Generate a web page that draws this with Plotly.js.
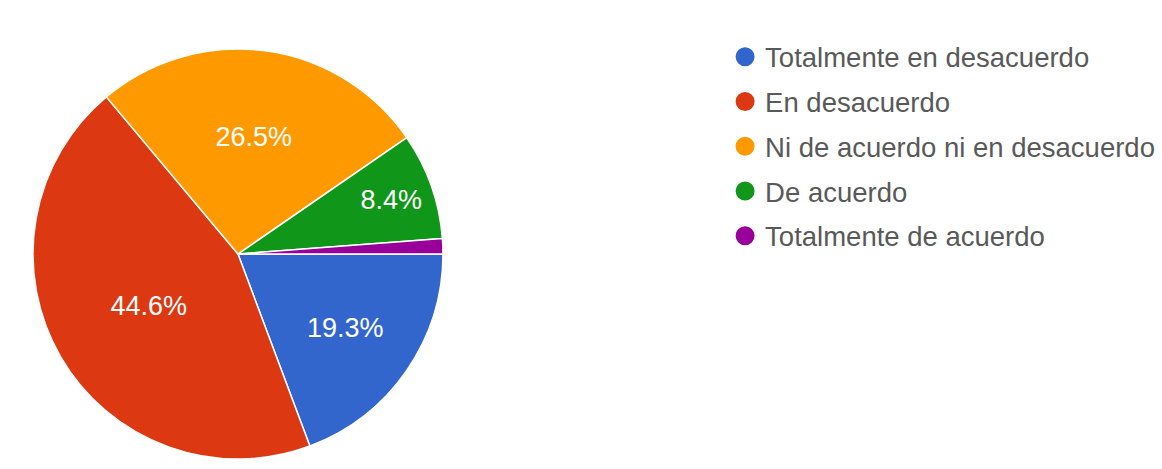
<!DOCTYPE html>
<html>
<head>
<meta charset="utf-8">
<script src="https://cdn.plot.ly/plotly-3.0.1.min.js"></script>
<style>html,body{margin:0;padding:0;background:#fff;}#chart{width:1162px;height:469px;}</style>
</head>
<body>
<div id="chart"></div>
<script>
const categories = ["Totalmente en desacuerdo", "En desacuerdo", "Ni de acuerdo ni en desacuerdo", "De acuerdo", "Totalmente de acuerdo"];
const percentages = [19.3, 44.6, 26.5, 8.4, 1.2];
const colors = ["#3366cc", "#dc3912", "#ff9900", "#109618", "#990099"];
const labelShown = [true, true, true, true, false];

const pieTrace = {
  type: "pie",
  labels: categories,
  values: percentages,
  sort: false,
  direction: "clockwise",
  rotation: 90,
  marker: {colors: colors, line: {color: "#ffffff", width: 1.5}},
  texttemplate: labelShown.map(s => s ? "%{percent:.1%}" : ""),
  textposition: "inside",
  insidetextorientation: "horizontal",
  insidetextfont: {family: "Liberation Sans, Arial, sans-serif", size: 27, color: "#ffffff"},
  showlegend: false,
  hoverinfo: "label+percent",
  domain: {x: [0.0017, 0.4079], y: [0.0213, 0.8955]}
};

const legendTraces = categories.map((c, i) => ({
  type: "scatter",
  mode: "markers",
  x: [null], y: [null],
  name: c,
  legendgroup: "g" + i,
  marker: {color: colors[i], size: 19, symbol: "circle", line: {color: colors[i], width: 3}},
  showlegend: true,
  hoverinfo: "skip"
}));

const layout = {
  width: 1162, height: 469,
  margin: {l: 0, r: 0, t: 0, b: 0},
  paper_bgcolor: "#ffffff",
  plot_bgcolor: "rgba(0,0,0,0)",
  xaxis: {visible: false, showgrid: false, zeroline: false},
  yaxis: {visible: false, showgrid: false, zeroline: false},
  showlegend: true,
  legend: {
    x: 0.624, y: 0.931, xanchor: "left", yanchor: "top",
    traceorder: "grouped",
    tracegroupgap: 6,
    font: {family: "Liberation Sans, Arial, sans-serif", size: 27.5, color: "#595959"},
    bgcolor: "rgba(0,0,0,0)",
    itemclick: false, itemdoubleclick: false
  }
};

Plotly.newPlot("chart", [pieTrace].concat(legendTraces), layout, {displayModeBar: false, staticPlot: true});
</script>
</body>
</html>
